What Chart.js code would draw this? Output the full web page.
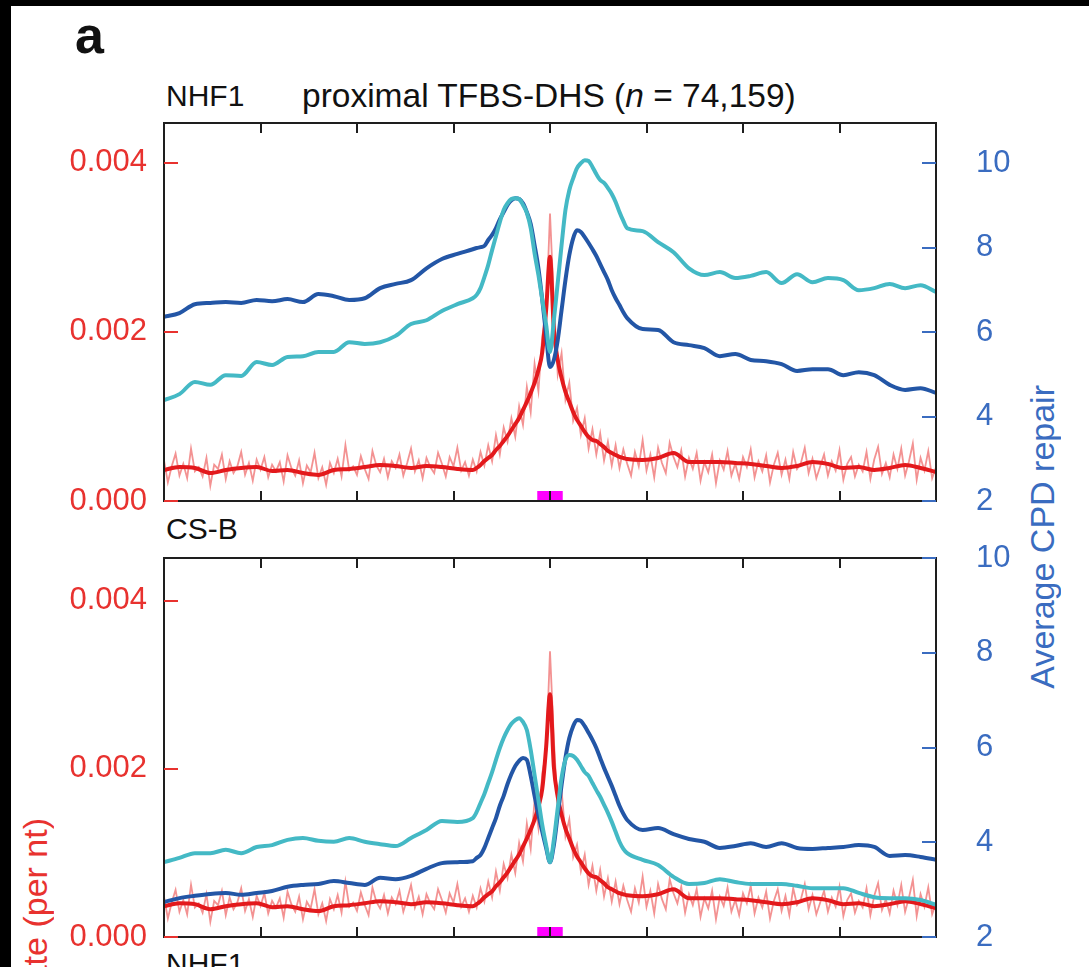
<!DOCTYPE html>
<html>
<head>
<meta charset="utf-8">
<script src="https://cdn.jsdelivr.net/npm/chart.js@4.4.1/dist/chart.umd.min.js"></script>
<style>
  html, body { margin: 0; padding: 0; background: #fff; }
  body { width: 1089px; height: 967px; position: relative; overflow: hidden;
         font-family: "Liberation Sans", Arial, sans-serif; }
  .edge { position: absolute; background: #000; z-index: 5; }
  .txt { position: absolute; line-height: 1; white-space: nowrap; color: #111; font-size: 30px; }
  .vlab { position: absolute; writing-mode: vertical-rl; transform: rotate(180deg);
          line-height: 1; white-space: nowrap; font-size: 34px; }
  canvas { position: absolute; left: 0; }
</style>
</head>
<body>
<div class="edge" style="left:0;top:0;width:1089px;height:6px"></div>
<div class="edge" style="left:0;top:0;width:11px;height:967px"></div>

<div class="txt" style="left:75px;top:9px;font-size:52px;font-weight:bold">a</div>
<div class="txt" style="left:166px;top:81px">NHF1</div>
<div class="txt" style="left:302px;top:79px;font-size:33.5px">proximal TFBS-DHS (<i>n</i> = 74,159)</div>
<div class="txt" style="left:166px;top:514px">CS-B</div>
<div class="txt" style="left:166px;top:949px">NHF1</div>
<div class="vlab" style="left:1025px;top:385px;color:#3a6cc0">Average CPD repair</div>
<div class="vlab" style="left:18px;top:818px;color:#e8322f">CPD formation rate (per nt)</div>

<canvas id="panel-top" width="1089" height="580" style="top:0"></canvas>
<canvas id="panel-bottom" width="1089" height="520" style="top:480px"></canvas>

<script>
// position relative to TFBS centre (bp)
const GRID_BP = [-1000,-960,-920,-880,-840,-800,-760,-720,-680,-640,
  -600,-560,-520,-480,-440,-400,-360,-320,-280,-240,
  -200,-190,-180,-170,-160,-150,-140,-130,-120,-110,
  -100,-90,-80,-70,-60,-50,-40,-30,-20,-10,
  0,10,20,30,40,50,60,70,80,90,
  100,110,120,130,140,150,160,170,180,190,
  200,240,280,320,360,400,440,480,520,560,
  600,640,680,720,760,800,840,880,920,960,
  1000];
const RAW_BP = Array.from({ length: 201 }, function (_, i) { return -1000 + i * 10; });

const X_TICKS = [-750, -500, -250, 0, 250, 500, 750];
const MOTIF_BOX = [-33, 33];

// damage formation rate, in units of 10^-3 per nt (same in both panels)
const RATE_UNIT = 0.001;
const RATE_SMOOTH = [0.367,0.402,0.391,0.331,0.367,0.391,0.402,0.355,0.367,0.331,
  0.308,0.367,0.379,0.402,0.426,0.414,0.391,0.414,0.402,0.379,
  0.367,0.391,0.426,0.473,0.509,0.544,0.604,0.651,0.710,0.769,
  0.840,0.911,0.982,1.077,1.172,1.278,1.396,1.550,1.763,2.260,
  2.888,2.024,1.669,1.456,1.290,1.172,1.053,0.959,0.888,0.817,
  0.757,0.722,0.710,0.675,0.639,0.592,0.568,0.544,0.521,0.509,
  0.497,0.485,0.509,0.568,0.462,0.462,0.462,0.450,0.438,0.414,
  0.391,0.414,0.462,0.438,0.391,0.402,0.367,0.391,0.426,0.391,
  0.343];
const RATE_RAW = [0.48,0.22,0.41,0.56,0.30,0.44,0.27,0.62,0.35,0.40,
  0.29,0.51,0.18,0.43,0.38,0.55,0.26,0.47,0.33,0.41,
  0.58,0.31,0.45,0.24,0.49,0.37,0.52,0.28,0.43,0.35,
  0.46,0.23,0.54,0.39,0.30,0.48,0.21,0.42,0.34,0.57,
  0.27,0.40,0.19,0.45,0.33,0.50,0.29,0.66,0.36,0.41,
  0.31,0.53,0.38,0.26,0.59,0.42,0.34,0.50,0.28,0.47,
  0.39,0.55,0.30,0.45,0.62,0.35,0.48,0.27,0.51,0.40,
  0.33,0.57,0.44,0.29,0.52,0.41,0.63,0.36,0.46,0.30,
  0.49,0.35,0.58,0.42,0.66,0.47,0.78,0.55,0.87,0.70,
  0.98,0.76,1.12,0.90,1.35,1.05,1.62,1.30,1.95,2.20,
  3.40,
  2.35,1.50,1.75,1.20,1.40,0.95,1.10,0.78,0.98,0.62,
  0.85,0.55,0.80,0.48,0.70,0.42,0.66,0.39,0.61,0.44,
  0.30,0.58,0.41,0.72,0.36,0.55,0.28,0.63,0.45,0.33,
  0.69,0.52,0.40,0.60,0.29,0.51,0.38,0.57,0.24,0.46,
  0.34,0.55,0.21,0.48,0.37,0.59,0.30,0.44,0.26,0.52,
  0.40,0.61,0.28,0.47,0.35,0.54,0.22,0.43,0.57,0.31,
  0.49,0.26,0.58,0.38,0.45,0.63,0.33,0.50,0.27,0.41,
  0.55,0.30,0.47,0.36,0.60,0.25,0.44,0.52,0.29,0.43,
  0.35,0.58,0.26,0.49,0.64,0.32,0.45,0.28,0.55,0.38,
  0.62,0.30,0.47,0.68,0.25,0.51,0.36,0.59,0.27,0.40];

// average CPD repair, NHF1 (top) and CS-B (bottom); two time points each
const NHF1_DARK = [6.36,6.45,6.66,6.69,6.71,6.69,6.76,6.73,6.78,6.71,
  6.90,6.85,6.76,6.80,7.04,7.14,7.23,7.51,7.73,7.85,
  7.96,7.99,8.01,8.04,8.18,8.30,8.46,8.67,8.84,9.01,
  9.12,9.17,9.15,9.05,8.84,8.56,8.06,7.51,6.76,5.93,
  5.17,5.34,5.81,6.52,7.23,7.82,8.22,8.41,8.37,8.25,
  8.11,7.96,7.80,7.61,7.42,7.23,6.99,6.80,6.64,6.47,
  6.33,6.07,6.05,5.76,5.69,5.62,5.43,5.48,5.34,5.31,
  5.24,5.08,5.12,5.12,4.98,5.05,4.98,4.75,4.63,4.67,
  4.56];
const NHF1_CYAN = [4.39,4.53,4.82,4.75,4.98,4.96,5.29,5.22,5.41,5.43,
  5.53,5.53,5.76,5.72,5.76,5.91,6.19,6.28,6.50,6.66,
  6.80,6.88,7.04,7.30,7.59,7.94,8.27,8.60,8.89,9.05,
  9.15,9.17,9.15,9.01,8.82,8.46,7.87,7.35,6.76,6.17,
  5.53,6.28,7.16,8.06,8.89,9.36,9.64,9.88,10.00,10.07,
  10.05,9.91,9.74,9.60,9.53,9.41,9.27,9.08,8.84,8.63,
  8.46,8.39,8.13,7.89,7.51,7.35,7.42,7.28,7.33,7.42,
  7.16,7.37,7.18,7.28,7.23,6.99,7.04,7.14,7.04,7.11,
  6.95];
const CSB_DARK = [2.74,2.82,2.87,2.91,2.93,2.89,2.93,2.97,3.06,3.10,
  3.12,3.18,3.14,3.10,3.25,3.22,3.29,3.44,3.56,3.58,
  3.60,3.67,3.73,3.88,4.09,4.30,4.51,4.77,4.98,5.23,
  5.44,5.61,5.72,5.78,5.74,5.40,4.98,4.58,4.22,3.88,
  3.58,3.94,4.58,5.21,5.78,6.20,6.45,6.58,6.56,6.45,
  6.31,6.16,5.99,5.78,5.57,5.38,5.19,4.98,4.77,4.60,
  4.47,4.26,4.30,4.17,4.07,4.01,3.88,3.92,3.98,3.90,
  3.98,3.88,3.86,3.88,3.90,3.94,3.90,3.71,3.73,3.69,
  3.63];
const CSB_CYAN = [3.58,3.67,3.77,3.77,3.84,3.77,3.90,3.94,4.05,4.09,
  4.03,4.01,4.09,4.01,3.96,3.92,4.09,4.26,4.45,4.43,
  4.51,4.64,4.83,5.02,5.25,5.48,5.74,5.99,6.20,6.37,
  6.50,6.58,6.62,6.54,6.37,5.95,5.42,4.89,4.36,3.94,
  3.58,4.05,4.72,5.36,5.74,5.84,5.82,5.74,5.61,5.48,
  5.40,5.25,5.10,4.96,4.79,4.62,4.43,4.22,4.01,3.86,
  3.77,3.63,3.52,3.27,3.12,3.14,3.22,3.16,3.12,3.12,
  3.12,3.08,3.03,3.03,3.03,2.93,2.84,2.82,2.82,2.78,
  2.68];

const RED = "#e8322f";
const BLUE_TXT = "#3a6cc0";
const FONT = "'Liberation Sans', Arial, sans-serif";

function pts(xs, ys, unit) {
  return xs.map(function (x, i) { return { x: x, y: ys[i] * (unit || 1) }; });
}

// frame, inward ticks and the motif marker
const framePlugin = {
  id: "frame",
  afterDatasetsDraw: function (chart) {
    const ctx = chart.ctx;
    const a = chart.chartArea;
    const x = chart.scales.x, yL = chart.scales.yL, yR = chart.scales.yR;
    ctx.save();
    const m0 = x.getPixelForValue(MOTIF_BOX[0]);
    const m1 = x.getPixelForValue(MOTIF_BOX[1]);
    ctx.fillStyle = "#ff00ff";
    ctx.fillRect(m0, a.bottom - 10, m1 - m0, 10);

    ctx.strokeStyle = "#1e1e1e";
    ctx.lineWidth = 2;
    ctx.strokeRect(a.left, a.top, a.right - a.left, a.bottom - a.top);
    ctx.beginPath();
    X_TICKS.forEach(function (v) {
      const p = Math.round(x.getPixelForValue(v));
      ctx.moveTo(p, a.top); ctx.lineTo(p, a.top + 10);
      ctx.moveTo(p, a.bottom); ctx.lineTo(p, a.bottom - 10);
    });
    ctx.stroke();

    ctx.strokeStyle = RED;
    ctx.beginPath();
    yL.ticks.forEach(function (t) {
      const p = Math.round(yL.getPixelForValue(t.value));
      ctx.moveTo(a.left, p); ctx.lineTo(a.left + 14, p);
    });
    ctx.stroke();
    ctx.strokeStyle = BLUE_TXT;
    ctx.beginPath();
    yR.ticks.forEach(function (t) {
      const p = Math.round(yR.getPixelForValue(t.value));
      ctx.moveTo(a.right, p); ctx.lineTo(a.right - 14, p);
    });
    ctx.stroke();
    ctx.restore();
  }
};

// the canvases overlap: tick padding makes Chart.js reserve ~60px above and
// below the plot, so each canvas is taller than its panel and padded to fit
function makePanel(canvasId, dark, cyan, leftMax, rightMax, padTop, padBottom) {
  const smoothLine = { pointRadius: 0, borderWidth: 4, cubicInterpolationMode: "monotone", fill: false };
  return new Chart(document.getElementById(canvasId), {
    type: "line",
    data: {
      datasets: [
        Object.assign({ label: "repair 2", data: pts(GRID_BP, cyan), borderColor: "#44b9c5",
          yAxisID: "yR", order: 0 }, smoothLine),
        Object.assign({ label: "repair 1", data: pts(GRID_BP, dark), borderColor: "#2356a6",
          yAxisID: "yR", order: 1 }, smoothLine),
        Object.assign({ label: "damage", data: pts(GRID_BP, RATE_SMOOTH, RATE_UNIT), borderColor: "#e3191c",
          yAxisID: "yL", order: 2 }, smoothLine),
        { label: "damage raw", data: pts(RAW_BP, RATE_RAW, RATE_UNIT), borderColor: "rgba(238,100,100,0.7)",
          borderWidth: 1.8, pointRadius: 0, tension: 0, yAxisID: "yL", order: 3 }
      ]
    },
    options: {
      responsive: false,
      animation: false,
      events: [],
      layout: { padding: { left: 0, right: 0, top: padTop, bottom: padBottom } },
      plugins: { legend: { display: false }, tooltip: { enabled: false } },
      scales: {
        x: { type: "linear", min: -1000, max: 1000, display: false },
        yL: {
          type: "linear", position: "left", min: 0, max: leftMax,
          afterFit: function (s) { s.width = 164; },
          grid: { display: false, drawTicks: false },
          border: { display: false },
          ticks: { stepSize: 0.002, includeBounds: false, padding: 17, color: RED,
            font: { family: FONT, size: 31 },
            callback: function (v) { return v.toFixed(3); } }
        },
        yR: {
          type: "linear", position: "right", min: 2, max: rightMax,
          afterFit: function (s) { s.width = 1089 - 936; },
          grid: { display: false, drawTicks: false },
          border: { display: false },
          ticks: { stepSize: 2, includeBounds: false, padding: 40, color: BLUE_TXT,
            font: { family: FONT, size: 31 } }
        }
      }
    },
    plugins: [framePlugin]
  });
}

makePanel("panel-top", NHF1_DARK, NHF1_CYAN, 0.00447, 10.95, 123, 79);
makePanel("panel-bottom", CSB_DARK, CSB_CYAN, 0.00451, 10, 78, 63);
</script>
</body>
</html>
